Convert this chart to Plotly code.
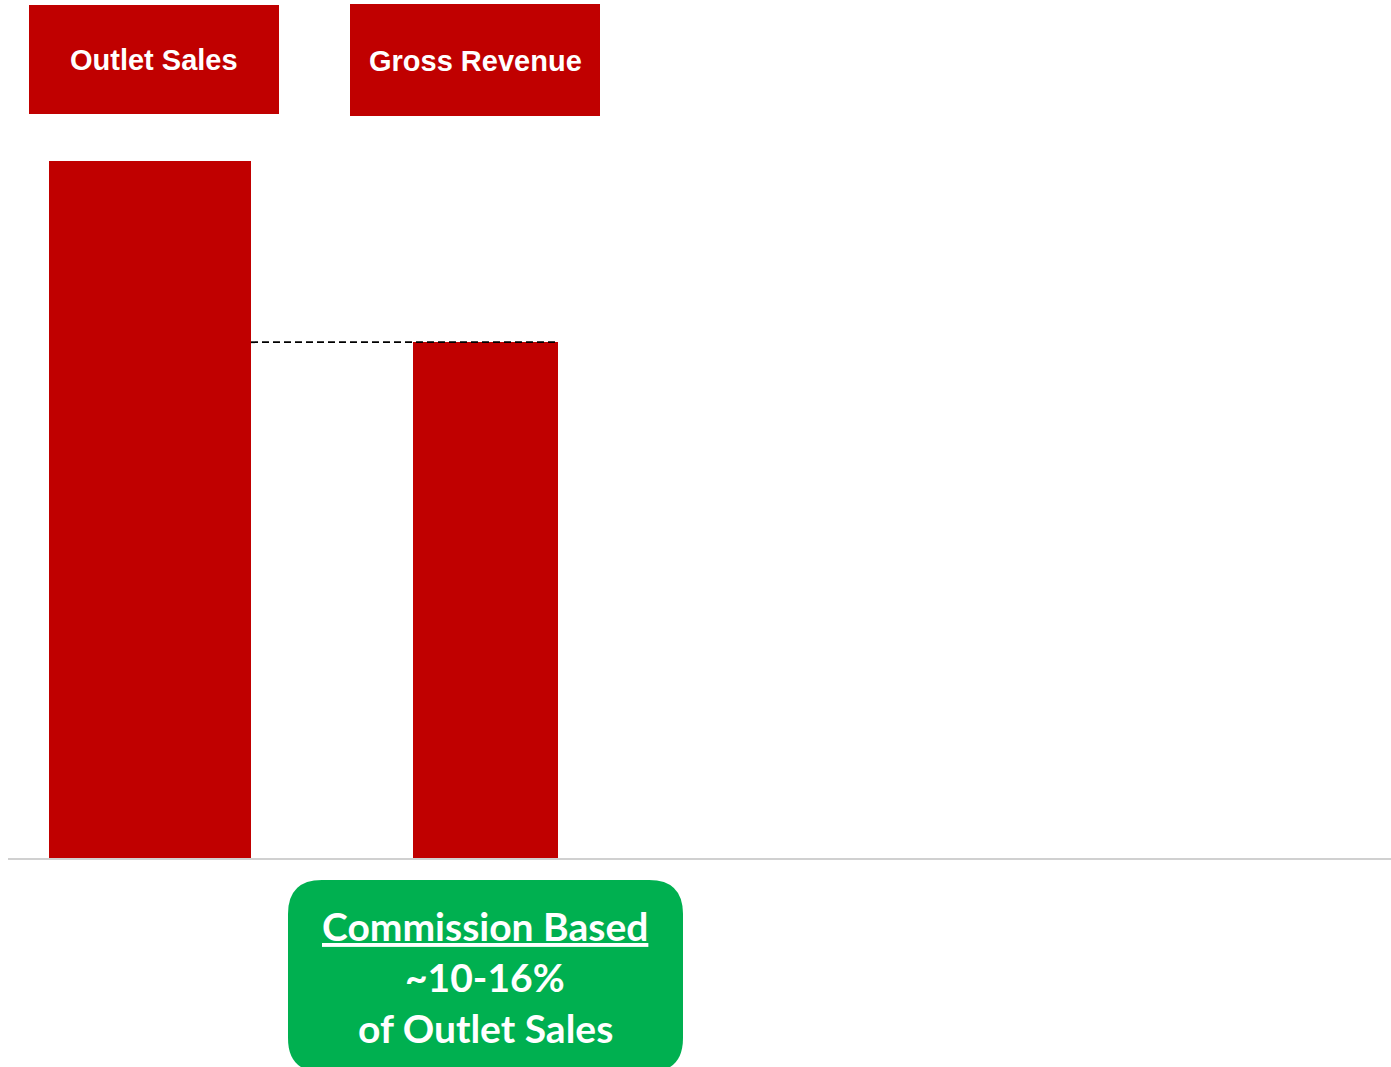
import plotly.graph_objects as go

categories = ["Outlet Sales", "Gross Revenue"]
values = [100, 74]
bar_widths = [0.602, 0.432]
header_labels = ["Outlet Sales", "Gross Revenue"]
callout_lines = ["Commission Based", "~10-16%", "of Outlet Sales"]

RED = "#C00000"
GREEN = "#00B050"

W, H = 1391, 1067
ML, MR, MT, MB = 8, 0, 0, 209
PW, PH = W - ML - MR, H - MT - MB

def px_x(px):
    return (px - ML) / PW

def px_y(py):
    return (H - MB - py) / PH

fig = go.Figure()
fig.add_trace(go.Bar(
    x=[0, 1], y=values, width=bar_widths,
    marker=dict(color=RED, line=dict(width=0)),
    hoverinfo="skip", showlegend=False,
))

# dashed connector from first bar to top of second bar
fig.add_shape(type="line", xref="x", yref="y",
              x0=0 + bar_widths[0] / 2, x1=1 + bar_widths[1] / 2,
              y0=values[1], y1=values[1],
              line=dict(color="black", width=1.8, dash="7px,4px"))

# header boxes
header_boxes = [(29, 5, 279, 114), (350, 4, 600, 116)]
for (x0, y0, x1, y1), lab in zip(header_boxes, header_labels):
    fig.add_shape(type="rect", xref="paper", yref="paper",
                  x0=px_x(x0), x1=px_x(x1), y0=px_y(y1), y1=px_y(y0),
                  fillcolor=RED, line=dict(width=0), layer="above")
    fig.add_annotation(xref="paper", yref="paper",
                       x=px_x((x0 + x1) / 2), y=px_y((y0 + y1) / 2 + 1),
                       text=f"<b>{lab}</b>", showarrow=False,
                       font=dict(family="Liberation Sans, Arial", size=29, color="white"),
                       xanchor="center", yanchor="middle")

# green rounded callout
gx0, gy0, gx1, gy1, r = 288, 880, 683, 1072, 34
def P(px, py):
    return f"{px_x(px):.6f},{px_y(py):.6f}"
path = (f"M {P(gx0 + r, gy0)} L {P(gx1 - r, gy0)} Q {P(gx1, gy0)} {P(gx1, gy0 + r)} "
        f"L {P(gx1, gy1 - r)} Q {P(gx1, gy1)} {P(gx1 - r, gy1)} "
        f"L {P(gx0 + r, gy1)} Q {P(gx0, gy1)} {P(gx0, gy1 - r)} "
        f"L {P(gx0, gy0 + r)} Q {P(gx0, gy0)} {P(gx0 + r, gy0)} Z")
fig.add_shape(type="path", xref="paper", yref="paper", path=path,
              fillcolor=GREEN, line=dict(width=0), layer="above")
line_ys = [926, 977, 1028]
for i, (t, yy) in enumerate(zip(callout_lines, line_ys)):
    txt = f"<b><u>{t}</u></b>" if i == 0 else f"<b>{t}</b>"
    fig.add_annotation(xref="paper", yref="paper", x=px_x(485), y=px_y(yy),
                       text=txt, showarrow=False,
                       font=dict(family="Lato, Open Sans", size=39, color="white"),
                       xanchor="center", yanchor="middle")

fig.update_layout(
    width=W, height=H,
    margin=dict(l=ML, r=MR, t=MT, b=MB),
    paper_bgcolor="white", plot_bgcolor="white",
    bargap=0,
    xaxis=dict(range=[(ML - 150) / 335.5, (W - 150) / 335.5],
               showticklabels=False, showgrid=False, zeroline=False,
               showline=True, linecolor="#D0D0D0", linewidth=2, ticks=""),
    yaxis=dict(range=[0, 100 * PH / 697], visible=False, showgrid=False, zeroline=False),
)

fig.write_html("out.html")
